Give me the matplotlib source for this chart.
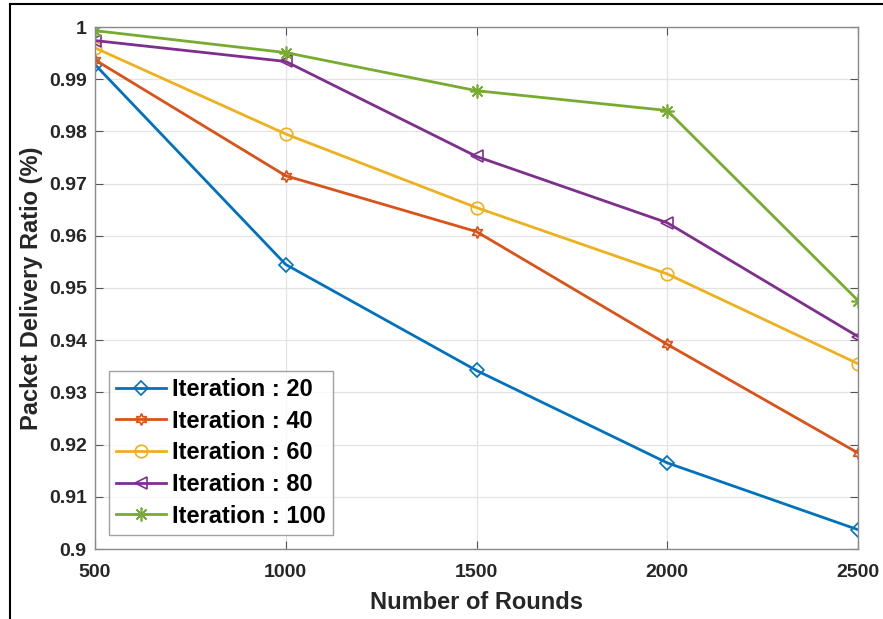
import matplotlib
matplotlib.use("Agg")
import matplotlib.pyplot as plt
from matplotlib.lines import Line2D

rounds = [500, 1000, 1500, 2000, 2500]
labels = ["Iteration : 20", "Iteration : 40", "Iteration : 60", "Iteration : 80", "Iteration : 100"]
it20 = [0.9928, 0.9545, 0.9342, 0.9165, 0.9037]
it40 = [0.9937, 0.9715, 0.9608, 0.9392, 0.9184]
it60 = [0.9960, 0.9795, 0.9654, 0.9527, 0.9355]
it80 = [0.9974, 0.9934, 0.9752, 0.9625, 0.9407]
it100 = [0.9993, 0.9951, 0.9878, 0.9840, 0.9476]
xticks = [500, 1000, 1500, 2000, 2500]
yticks = [0.9, 0.91, 0.92, 0.93, 0.94, 0.95, 0.96, 0.97, 0.98, 0.99, 1.0]
yticklabels = ["0.9", "0.91", "0.92", "0.93", "0.94", "0.95", "0.96", "0.97", "0.98", "0.99", "1"]

colors = ["#0072BD", "#D95319", "#EDB120", "#7E2F8E", "#77AC30"]
markers = ["D", (6, 1, 0), "o", "<", (8, 2, 0)]
msizes = [7.5, 8.5, 9, 9, 10]

plt.rcParams['font.family'] = ['Liberation Sans', 'DejaVu Sans']
fig = plt.figure(figsize=(8.83, 6.19), dpi=100)
ax = fig.add_axes([95/883, 1-549/619, (858-95)/883, (549-27)/619])

series = [it20, it40, it60, it80, it100]
for s, c, m, ms, lab in zip(series, colors, markers, msizes, labels):
    ax.plot(rounds, s, color=c, lw=2, marker=m, ms=ms,
            markerfacecolor='none', markeredgecolor=c, markeredgewidth=1.2, label=lab)

ax.set_xlim(500, 2500)
ax.set_ylim(0.9, 1.0)
ax.set_xticks(xticks)
ax.set_yticks(yticks)
ax.set_yticklabels(yticklabels)
ax.grid(True, color='#e3e3e3', lw=0.9)
ax.set_axisbelow(True)
for sp in ax.spines.values():
    sp.set_color('#8a8a8a')
    sp.set_linewidth(1.0)
ax.tick_params(direction='in', top=True, right=True, length=6, color='#555555',
               labelsize=14, pad=6)
ax.tick_params(axis='x', pad=11)
for t in ax.get_xticklabels() + ax.get_yticklabels():
    t.set_fontweight('bold')
    t.set_color('#262626')
ax.set_xlabel("Number of Rounds", fontsize=17, fontweight='bold', color='#262626', labelpad=7)
ax.set_ylabel("Packet Delivery Ratio (%)", fontsize=17, fontweight='bold', color='#262626', labelpad=4)

leg = ax.legend(loc='lower left', bbox_to_anchor=(0.0, 0.0),
                prop={'weight': 'bold', 'size': 17}, frameon=True, fancybox=False,
                edgecolor='#8a8a8a', handlelength=2.1, borderpad=0.3, labelspacing=0.37,
                handletextpad=0.25, borderaxespad=0.6)
leg.get_frame().set_linewidth(1.0)

fig.add_artist(Line2D([9.5/883, 9.5/883], [0, 1-4/619], color='black', lw=1.5))
fig.add_artist(Line2D([9.5/883, 1], [1-4/619, 1-4/619], color='black', lw=1.5))

fig.savefig("out.png", dpi=100)
